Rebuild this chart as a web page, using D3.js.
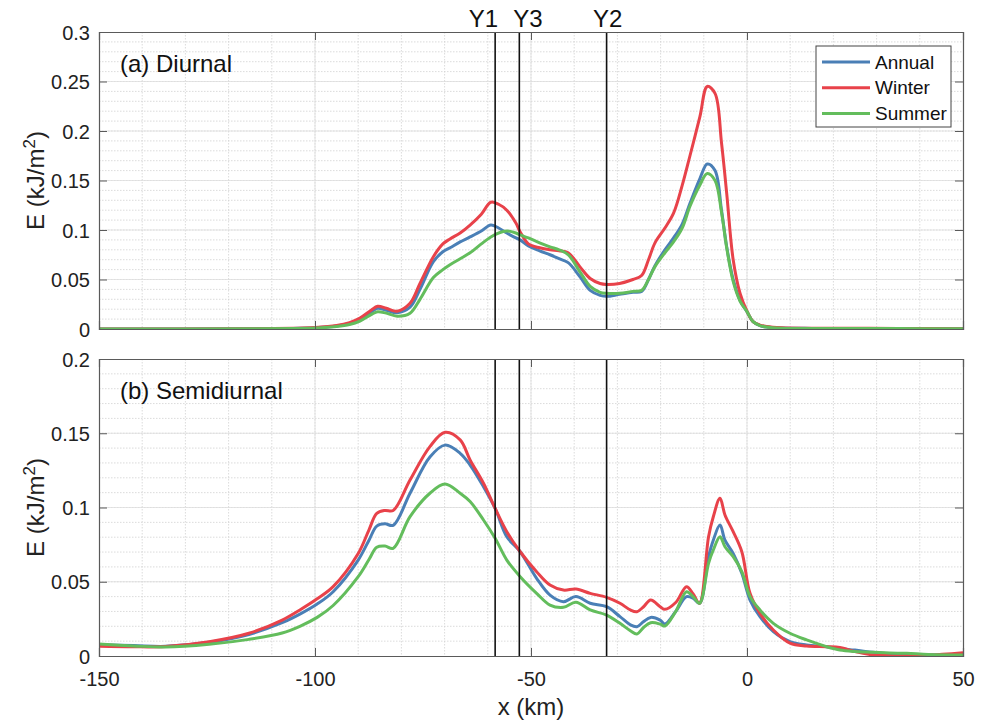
<!DOCTYPE html>
<html>
<head>
<meta charset="utf-8">
<script src="https://cdn.jsdelivr.net/npm/d3@7"></script>
<style>
  html, body { margin: 0; padding: 0; background: #fff; }
  svg { display: block; font-family: "Liberation Sans", Arial, Helvetica, sans-serif; }
</style>
</head>
<body>
<svg id="chart" width="982" height="722"></svg>
<script>
// ---------------- DATA ----------------
const seriesNames = ["Annual", "Winter", "Summer"];
const seriesColors = ["#4a7fb6", "#e8424a", "#63bd5c"];

const xTicks = [-150, -100, -50, 0, 50];
const yTicksDiurnal = [0, 0.05, 0.1, 0.15, 0.2, 0.25, 0.3];
const yTicksSemi = [0, 0.05, 0.1, 0.15, 0.2];

const sectionNames = ["Y1", "Y3", "Y2"];
const sectionX = [-58.3, -52.7, -32.5];
const sectionAnchor = ["end", "start", "middle"];

// (a) Diurnal
const xDiurnal = [-150, -130, -115, -105, -100, -95, -92, -89.6, -87, -85.5, -83.5, -81, -78, -75.7, -72.6, -70.4, -68.75, -66.4, -64.1, -61.5, -59.3, -57.5, -55.6, -53.5, -52.5, -50.6, -48, -45.6, -43.5, -41.4, -38.7, -36.3, -34, -32.5, -29.5, -26.4, -24.4, -22.8, -21.3, -19, -17, -15, -13.2, -10.9, -9.2, -7.4, -5.9, -4.7, -3.2, -1.6, 0, 1.4, 3, 4.5, 8, 15, 25, 35, 50];
const diurnalWinter = [0, 0, 0.0003, 0.0008, 0.0015, 0.0035, 0.0065, 0.011, 0.019, 0.023, 0.021, 0.018, 0.026, 0.046, 0.073, 0.086, 0.091, 0.097, 0.105, 0.116, 0.128, 0.126, 0.120, 0.107, 0.098, 0.086, 0.082, 0.080, 0.079, 0.077, 0.063, 0.051, 0.046, 0.045, 0.046, 0.050, 0.054, 0.070, 0.087, 0.102, 0.117, 0.145, 0.175, 0.2145, 0.245, 0.238, 0.188, 0.137, 0.070, 0.036, 0.018, 0.0075, 0.004, 0.0025, 0.0012, 0.0008, 0.0008, 0.0006, 0.0003];
const diurnalAnnual = [0, 0, 0.0002, 0.0006, 0.0012, 0.003, 0.0055, 0.0095, 0.017, 0.021, 0.019, 0.0165, 0.022, 0.040, 0.068, 0.078, 0.082, 0.088, 0.093, 0.099, 0.105, 0.102, 0.097, 0.092, 0.090, 0.084, 0.079, 0.075, 0.071, 0.067, 0.053, 0.039, 0.034, 0.033, 0.035, 0.037, 0.038, 0.050, 0.064, 0.080, 0.092, 0.106, 0.127, 0.152, 0.1667, 0.160, 0.120, 0.083, 0.050, 0.029, 0.0175, 0.0074, 0.0035, 0.002, 0.001, 0.0006, 0.0005, 0.0005, 0.0003];
const diurnalSummer = [0, 0, 0.0002, 0.0005, 0.001, 0.0025, 0.0045, 0.008, 0.0145, 0.0175, 0.016, 0.013, 0.016, 0.030, 0.052, 0.060, 0.065, 0.071, 0.077, 0.086, 0.093, 0.097, 0.099, 0.097, 0.095, 0.092, 0.087, 0.083, 0.080, 0.075, 0.058, 0.043, 0.037, 0.036, 0.036, 0.038, 0.039, 0.050, 0.063, 0.077, 0.088, 0.102, 0.124, 0.1455, 0.157, 0.150, 0.118, 0.082, 0.048, 0.028, 0.0175, 0.0074, 0.0035, 0.002, 0.0008, 0.0004, 0.0004, 0.0004, 0.0002];

// (b) Semidiurnal
const xSemi = [-150, -142, -134.6, -124.5, -115.3, -107.6, -103.5, -99.5, -95.8, -90, -87.5, -85.7, -83.8, -81.9, -78, -73.4, -69.9, -66.4, -64.1, -61, -58.3, -55.6, -52.5, -48.7, -45.6, -42.5, -39.6, -36.3, -32.5, -29.4, -27, -25.5, -24, -22.3, -20.1, -19, -16.5, -14, -12.5, -11, -8.9, -7.8, -6.25, -5.1, -3.2, -1.2, 0.7, 3, 6.1, 9.95, 13.8, 18.4, 21.5, 25, 29.2, 33, 37, 42, 50];
const semiWinter = [0.0065, 0.0062, 0.0064, 0.0096, 0.0153, 0.0242, 0.031, 0.0385, 0.0467, 0.069, 0.085, 0.096, 0.098, 0.098, 0.1185, 0.141, 0.1506, 0.1455, 0.132, 0.1163, 0.0994, 0.0837, 0.0702, 0.0568, 0.0478, 0.0444, 0.0451, 0.0422, 0.0395, 0.0355, 0.031, 0.0298, 0.033, 0.0377, 0.0332, 0.0314, 0.036, 0.0467, 0.042, 0.0355, 0.0803, 0.0938, 0.1062, 0.095, 0.0837, 0.0702, 0.0422, 0.0287, 0.0175, 0.0086, 0.0067, 0.0063, 0.0058, 0.003, 0.0007, 0.0002, 0.0, 0.0005, 0.0022];
const semiAnnual = [0.0075, 0.007, 0.0065, 0.0092, 0.0145, 0.0224, 0.0282, 0.035, 0.0433, 0.0646, 0.078, 0.0875, 0.089, 0.088, 0.1096, 0.134, 0.142, 0.1365, 0.1286, 0.114, 0.0994, 0.0803, 0.0702, 0.0523, 0.041, 0.0366, 0.040, 0.0355, 0.0332, 0.0265, 0.021, 0.0197, 0.023, 0.026, 0.0242, 0.0215, 0.030, 0.040, 0.039, 0.0355, 0.0669, 0.078, 0.0882, 0.078, 0.069, 0.0557, 0.0377, 0.0265, 0.0164, 0.0096, 0.0074, 0.0063, 0.005, 0.004, 0.0025, 0.0015, 0.001, 0.0008, 0.0007];
const semiSummer = [0.008, 0.0068, 0.006, 0.0079, 0.0112, 0.0155, 0.020, 0.026, 0.034, 0.0534, 0.065, 0.0732, 0.074, 0.0725, 0.0938, 0.1096, 0.1158, 0.1096, 0.104, 0.0916, 0.0793, 0.0646, 0.0534, 0.0422, 0.0343, 0.0328, 0.0362, 0.031, 0.0276, 0.022, 0.017, 0.0148, 0.019, 0.0224, 0.0215, 0.0202, 0.030, 0.0433, 0.040, 0.0355, 0.0624, 0.0714, 0.0803, 0.0736, 0.0669, 0.0568, 0.040, 0.031, 0.022, 0.0153, 0.0108, 0.0063, 0.004, 0.003, 0.0025, 0.002, 0.0018, 0.001, 0.0007];

// ---------------- CHART ----------------
const svg = d3.select("#chart");
const left = 99, right = 963;
const fontTick = 20, fontLabel = 24;

const x = d3.scaleLinear().domain([-150, 50]).range([left, right]);

const panels = [
  { top: 32, bottom: 329, ymax: 0.3, yTicks: yTicksDiurnal, title: "(a) Diurnal",
    xs: xDiurnal, data: [diurnalAnnual, diurnalWinter, diurnalSummer], showXLabels: false, legend: true, sectionLabels: true },
  { top: 359, bottom: 656, ymax: 0.2, yTicks: yTicksSemi, title: "(b) Semidiurnal",
    xs: xSemi, data: [semiAnnual, semiWinter, semiSummer], showXLabels: true, legend: false, sectionLabels: false }
];

const fmt = d => d === 0 ? "0" : String(+d.toFixed(2));
const axisColor = "#5a5a5a";

panels.forEach((p, pi) => {
  const y = d3.scaleLinear().domain([0, p.ymax]).range([p.bottom, p.top]);
  const g = svg.append("g");

  // minor grid
  const minorX = d3.range(-140, 50, 10);
  const minorY = d3.range(0.01, p.ymax - 0.0001, 0.01);
  g.append("g").selectAll("line").data(minorX).join("line")
    .attr("x1", d => x(d)).attr("x2", d => x(d)).attr("y1", p.top).attr("y2", p.bottom)
    .attr("stroke", "#d2d2d2").attr("stroke-width", 0.8).attr("stroke-dasharray", "1.5,1.5");
  g.append("g").selectAll("line").data(minorY).join("line")
    .attr("x1", left).attr("x2", right).attr("y1", d => y(d)).attr("y2", d => y(d))
    .attr("stroke", "#d2d2d2").attr("stroke-width", 0.8).attr("stroke-dasharray", "1.5,1.5");
  // major grid
  g.append("g").selectAll("line").data(xTicks.slice(1, -1)).join("line")
    .attr("x1", d => x(d)).attr("x2", d => x(d)).attr("y1", p.top).attr("y2", p.bottom)
    .attr("stroke", "#dedede").attr("stroke-width", 0.8);
  g.append("g").selectAll("line").data(p.yTicks.slice(1, -1)).join("line")
    .attr("x1", left).attr("x2", right).attr("y1", d => y(d)).attr("y2", d => y(d))
    .attr("stroke", "#dedede").attr("stroke-width", 0.8);

  // clip
  const clipId = "clip" + pi;
  svg.append("clipPath").attr("id", clipId).append("rect")
    .attr("x", left).attr("y", p.top - 2).attr("width", right - left).attr("height", p.bottom - p.top + 2);

  // series lines
  const line = d3.line().x(d => x(d[0])).y(d => y(d[1])).curve(d3.curveCatmullRom.alpha(0.5));
  [0, 1, 2].forEach(si => {
    const pts = p.xs.map((xv, i) => [xv, p.data[si][i]]);
    g.append("path").attr("d", line(pts)).attr("fill", "none")
      .attr("stroke", seriesColors[si]).attr("stroke-width", 3)
      .attr("stroke-linejoin", "round").attr("clip-path", `url(#${clipId})`);
  });

  // section lines
  g.append("g").selectAll("line").data(sectionX).join("line")
    .attr("x1", d => x(d)).attr("x2", d => x(d)).attr("y1", p.top).attr("y2", p.bottom)
    .attr("stroke", "#111").attr("stroke-width", 1.6);
  if (p.sectionLabels) {
    g.append("g").selectAll("text").data(sectionNames).join("text")
      .attr("x", (d, i) => x(sectionX[i]) + (sectionAnchor[i] === "end" ? 3 : sectionAnchor[i] === "start" ? -6 : 1))
      .attr("y", 27)
      .attr("text-anchor", (d, i) => sectionAnchor[i]).attr("font-size", 24).attr("fill", "#111").text(d => d);
  }

  // axes (MATLAB-like inward ticks, box)
  const axB = d3.axisBottom(x).tickValues(xTicks).tickSize(-8).tickFormat(() => "");
  const axT = d3.axisTop(x).tickValues(xTicks).tickSize(-8).tickFormat(() => "");
  const axL = d3.axisLeft(y).tickValues(p.yTicks).tickSize(-8).tickFormat(fmt);
  const axR = d3.axisRight(y).tickValues(p.yTicks).tickSize(-8).tickFormat(() => "");

  const styleAxis = sel => {
    sel.selectAll("path").attr("stroke", axisColor).attr("stroke-width", 1.2);
    sel.selectAll("line").attr("stroke", axisColor).attr("stroke-width", 1);
    sel.selectAll("text").attr("fill", "#222").attr("font-size", fontTick)
      .attr("font-family", "\"Liberation Sans\", Arial, sans-serif");
  };
  const gb = g.append("g").attr("transform", `translate(0,${p.bottom})`).call(axB).call(styleAxis);
  if (p.showXLabels) {
    gb.selectAll("text").attr("dy", "0").attr("y", 30).text(d => d < 0 ? "-" + Math.abs(d) : String(d));
  }
  g.append("g").attr("transform", `translate(0,${p.top})`).call(axT).call(styleAxis);
  const gl = g.append("g").attr("transform", `translate(${left},0)`).call(axL).call(styleAxis);
  gl.selectAll("text").attr("x", -9).attr("dy", "0.36em");
  g.append("g").attr("transform", `translate(${right},0)`).call(axR).call(styleAxis);

  // y label
  const yl = g.append("text")
    .attr("transform", `translate(44,${(p.top + p.bottom) / 2}) rotate(-90)`)
    .attr("text-anchor", "middle").attr("font-size", fontLabel).attr("fill", "#222");
  yl.append("tspan").text("E (kJ/m");
  yl.append("tspan").attr("dy", -9).attr("font-size", 17).text("2");
  yl.append("tspan").attr("dy", 9).text(")");

  // panel title
  g.append("text").attr("x", 120).attr("y", p.top + 40).attr("font-size", 24).attr("fill", "#111").text(p.title);

  // legend
  if (p.legend) {
    const lg = g.append("g");
    lg.append("rect").attr("x", 816).attr("y", 46).attr("width", 135).attr("height", 81)
      .attr("fill", "#fff").attr("stroke", "#444").attr("stroke-width", 1);
    seriesNames.forEach((name, i) => {
      const yy = 62 + i * 25.7;
      lg.append("line").attr("x1", 822).attr("x2", 870).attr("y1", yy).attr("y2", yy)
        .attr("stroke", seriesColors[i]).attr("stroke-width", 3);
      lg.append("text").attr("x", 875).attr("y", yy).attr("dy", "0.35em")
        .attr("font-size", 19).attr("fill", "#111").text(name);
    });
  }
});

// x label
svg.append("text").attr("x", (left + right) / 2).attr("y", 715).attr("text-anchor", "middle")
  .attr("font-size", fontLabel).attr("fill", "#222").text("x (km)");
</script>
</body>
</html>
